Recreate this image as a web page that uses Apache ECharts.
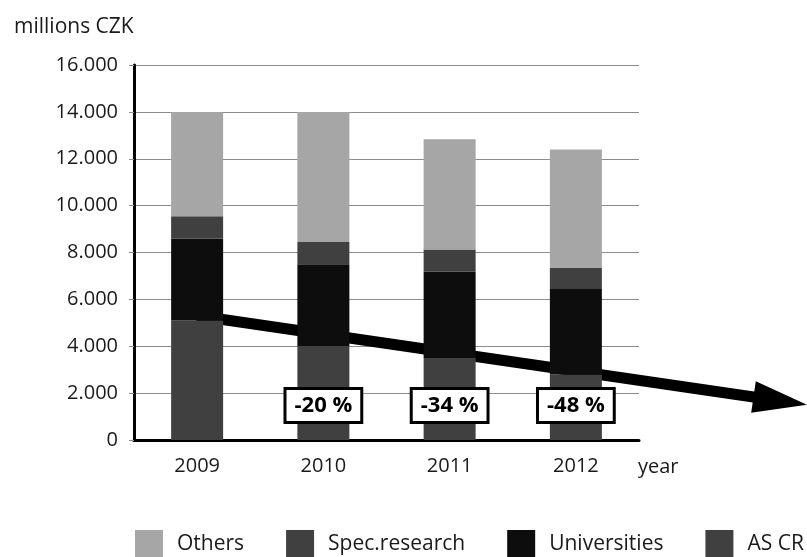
<!DOCTYPE html>
<html>
<head>
<meta charset="utf-8">
<script src="https://cdn.jsdelivr.net/npm/echarts@6/dist/echarts.min.js"></script>
<style>
  html, body { margin: 0; padding: 0; background: #fff; }
  #chart { width: 807px; height: 557px; }
</style>
</head>
<body>
<div id="chart"></div>
<script>
// ---- data ----
const categories = ['2009', '2010', '2011', '2012'];
const asCr = [5100, 4000, 3500, 2800];
const universities = [3500, 3500, 3680, 3640];
const specResearch = [950, 950, 950, 900];
const others = [4450, 5550, 4700, 5060];
const changeLabels = ['', '-20 %', '-34 %', '-48 %'];
const yMin = 0, yMax = 16000, yStep = 2000;
// trend arrow annotation (category index, value)
const trendFrom = [0, 5300];
const trendTo = [4.83, 1500];

const FONT = 'Open Sans';
const TEXT = '#1a1a1a';

function fmtThousands(v) {
  return String(v).replace(/\B(?=(\d{3})+(?!\d))/g, '.');
}

const chart = echarts.init(document.getElementById('chart'), null, { renderer: 'canvas' });

const barCommon = { type: 'bar', stack: 'total', barWidth: 52, xAxisIndex: 0, yAxisIndex: 0, z: 2 };

const option = {
  animation: false,
  textStyle: { fontFamily: FONT },
  title: {
    text: 'millions CZK', left: 9, top: 12,
    textStyle: { fontFamily: FONT, fontSize: 21, fontWeight: 'normal', color: TEXT }
  },
  grid: { left: 134, right: 168, top: 65, bottom: 117, containLabel: false },
  legend: {
    data: ['Others', 'Spec.research', 'Universities', 'AS CR'],
    left: 135, top: 530, width: 690, padding: 0,
    itemWidth: 28, itemHeight: 28, itemGap: 42, icon: 'rect',
    selectedMode: false,
    textStyle: { fontFamily: FONT, fontSize: 21, color: TEXT, padding: [0, 0, 0, 9] }
  },
  xAxis: [{
    type: 'category', data: categories,
    axisLine: { show: true, lineStyle: { color: '#000', width: 3 } },
    axisTick: { show: false },
    axisLabel: { fontFamily: FONT, fontSize: 20, color: TEXT, margin: 16 },
    name: 'year', nameLocation: 'end', nameGap: -1,
    nameTextStyle: { fontFamily: FONT, fontSize: 20, color: TEXT, align: 'left', verticalAlign: 'top', lineHeight: 54 }
  }, {
    type: 'value', min: -0.5, max: 3.5, show: false
  }],
  yAxis: {
    type: 'value', min: yMin, max: yMax, interval: yStep,
    axisLine: { show: true, onZero: false, lineStyle: { color: '#000', width: 3 } },
    axisTick: { show: true, length: 5, lineStyle: { color: '#8c8c8c' } },
    splitLine: { show: true, lineStyle: { color: '#8c8c8c', width: 1 } },
    axisLabel: { fontFamily: FONT, fontSize: 20, color: TEXT, margin: 16, formatter: fmtThousands }
  },
  series: [
    Object.assign({}, barCommon, {
      name: 'AS CR',
      itemStyle: { color: '#404040' },
      data: asCr.map((v, i) => ({
        value: v,
        label: {
          show: !!changeLabels[i],
          formatter: changeLabels[i],
          position: 'insideBottom', distance: 19,
          fontFamily: FONT, fontSize: 22, fontWeight: 'bold', color: '#000',
          backgroundColor: '#fff', borderColor: '#000', borderWidth: 3,
          padding: [3, 8], lineHeight: 25
        }
      }))
    }),
    Object.assign({}, barCommon, { name: 'Universities', itemStyle: { color: '#0d0d0d' }, data: universities }),
    Object.assign({}, barCommon, { name: 'Spec.research', itemStyle: { color: '#404040' }, data: specResearch }),
    Object.assign({}, barCommon, { name: 'Others', itemStyle: { color: '#a6a6a6' }, data: others }),
    {
      type: 'custom', name: 'trend', xAxisIndex: 1, yAxisIndex: 0, z: 1, silent: true, clip: false,
      data: [trendFrom],
      renderItem: function (params, api) {
        const p0 = api.coord(trendFrom), p1 = api.coord(trendTo);
        const dx = p1[0] - p0[0], dy = p1[1] - p0[1];
        const len = Math.sqrt(dx * dx + dy * dy);
        const ux = dx / len, uy = dy / len, nx = -uy, ny = ux;
        const sw = 5.5, hl = 54, hw = 16;
        const bx = p1[0] - ux * hl, by = p1[1] - uy * hl;
        const pts = [
          [p0[0] + nx * sw, p0[1] + ny * sw],
          [bx + nx * sw, by + ny * sw],
          [bx + nx * hw, by + ny * hw],
          [p1[0], p1[1]],
          [bx - nx * hw, by - ny * hw],
          [bx - nx * sw, by - ny * sw],
          [p0[0] - nx * sw, p0[1] - ny * sw]
        ];
        return { type: 'polygon', shape: { points: pts }, style: { fill: '#000' } };
      }
    }
  ]
};

chart.setOption(option);
</script>
</body>
</html>
